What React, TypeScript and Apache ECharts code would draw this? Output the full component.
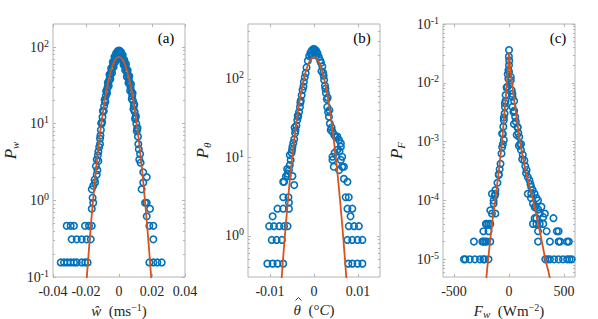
import React, { useEffect, useRef } from 'react';
import * as echarts from 'echarts';

const FONT = '"Liberation Serif", "Times New Roman", serif';
const BLUE = '#0072BD';
const ORANGE = '#D95319';
const FRAME = '#b4b4b4';
const TEXT = '#262626';

// ---------- panel (a): vertical velocity ----------
const wTicks = [-0.04, -0.02, 0, 0.02, 0.04];
const wPdfMajor = [0.1, 1, 10, 100];
const wPdfMinor = [0.2, 0.3, 0.4, 0.5, 0.6, 0.7, 0.8, 0.9, 2, 3, 4, 5, 6, 7, 8, 9, 20, 30, 40, 50, 60, 70, 80, 90];
const wPoints: [number, number][] = [
  [-0.0115, 6.4], [-0.011, 8.3], [-0.0105, 10], [-0.01, 12.2], [-0.0095, 14.6], [-0.009, 17], [-0.0085, 20], [-0.008, 23],
  [-0.0075, 26], [-0.007, 29.5], [-0.0065, 33], [-0.006, 37], [-0.0055, 41], [-0.005, 45], [-0.0045, 50], [-0.004, 55],
  [-0.0035, 60], [-0.003, 65], [-0.0025, 70], [-0.002, 74], [-0.0015, 78], [-0.001, 82], [-0.0005, 85], [0, 86],
  [0.0005, 85], [0.001, 82], [0.0015, 78], [0.002, 73], [0.0025, 68], [0.003, 64], [0.0035, 59], [0.004, 55],
  [0.0045, 50], [0.005, 46], [0.0055, 42], [0.006, 38], [0.0065, 34], [0.007, 30], [0.0075, 26.5], [0.008, 23],
  [0.0085, 20], [0.009, 17], [0.0095, 14.3], [0.01, 12], [0.0105, 10], [0.011, 8.5], [0.0115, 6.8],
  [-0.01125, 7.0], [-0.01075, 10.2], [-0.01025, 10.5], [-0.00975, 14.8], [-0.00925, 14.5], [-0.00875, 20.5], [-0.00825, 19],
  [-0.00775, 27], [-0.00725, 25], [-0.00675, 34.5], [-0.00625, 31], [-0.00575, 44], [-0.00525, 38], [-0.00475, 53],
  [-0.00425, 46], [-0.00375, 64], [-0.00325, 55], [-0.00275, 75], [-0.00225, 64], [-0.00175, 83], [-0.00125, 71],
  [-0.00075, 89], [-0.00025, 78], [0.00025, 90], [0.00075, 76], [0.00125, 86], [0.00175, 68], [0.00225, 79], [0.00275, 59],
  [0.00325, 68], [0.00375, 50], [0.00425, 60], [0.00475, 41], [0.00525, 50], [0.00575, 34], [0.00625, 42], [0.00675, 27],
  [0.00725, 33], [0.00775, 21], [0.00825, 25], [0.00875, 15.5], [0.00925, 18], [0.00975, 11.5], [0.01025, 12.6],
  [0.01075, 8], [0.01125, 8.8],
  [-0.012, 4.96], [-0.0115, 5.425], [-0.0125, 4.34], [-0.0128, 3.875], [-0.0135, 3.41], [-0.0125, 3.255], [-0.0131, 2.48],
  [-0.014, 2.79], [-0.0135, 2.17], [-0.0148, 1.86], [-0.0145, 1.705], [-0.0156, 1.55], [-0.0165, 1.395], [-0.016, 1.085],
  [-0.0156, 0.93], [-0.0165, 0.775],
  [0.0117, 5.425], [0.012, 4.65], [0.0128, 4.03], [0.0123, 3.41], [0.0131, 3.1], [0.0147, 2.325], [0.0168, 2.015],
  [0.0147, 1.705], [0.0137, 1.395], [0.0158, 0.93], [0.0168, 0.93], [0.0188, 0.775], [0.0168, 0.62],
  [-0.0317, 0.465], [-0.0293, 0.465], [-0.0273, 0.465], [-0.0206, 0.465], [-0.0182, 0.465], [-0.0165, 0.465],
  [0.0184, 0.465], [0.0208, 0.465],
  [-0.0287, 0.31], [-0.0256, 0.31], [-0.0226, 0.31], [-0.0196, 0.31], [-0.0171, 0.31], [0.0208, 0.31],
  [-0.0353, 0.155], [-0.0333, 0.155], [-0.0313, 0.155], [-0.0293, 0.155], [-0.0273, 0.155], [-0.0256, 0.155],
  [-0.0226, 0.155], [-0.0205, 0.155], [-0.019, 0.155],
  [0.0184, 0.155], [0.0208, 0.155], [0.0232, 0.155], [0.0259, 0.155],
];
const wFitX = [-0.02, -0.019, -0.018, -0.017, -0.016, -0.015, -0.014, -0.013, -0.012, -0.011, -0.01, -0.009, -0.008, -0.007, -0.006, -0.005, -0.004, -0.003, -0.002, -0.001, 0,
  0.001, 0.002, 0.003, 0.004, 0.005, 0.006, 0.007, 0.008, 0.009, 0.01, 0.011, 0.012, 0.013, 0.014, 0.015, 0.016, 0.017, 0.018, 0.019, 0.02];
const wFitY = [0.0706, 0.139, 0.265, 0.487, 0.865, 1.48, 2.46, 3.93, 6.07, 9.05, 13.05, 18.2, 24.4, 31.7, 39.8, 48.2, 56.3, 63.6, 69.4, 73.1, 74.4,
  73.1, 69.4, 63.6, 56.3, 48.2, 39.8, 31.7, 24.4, 18.2, 13.05, 9.05, 6.07, 3.93, 2.46, 1.48, 0.865, 0.487, 0.265, 0.139, 0.0706];

// ---------- panel (b): temperature ----------
const tTicks = [-0.01, 0, 0.01];
const tPdfMajor = [1, 10, 100];
const tPdfMinor = [0.4, 0.5, 0.6, 0.7, 0.8, 0.9, 2, 3, 4, 5, 6, 7, 8, 9, 20, 30, 40, 50, 60, 70, 80, 90, 200, 300, 400];
const tPoints: [number, number][] = [
  [-0.0008, 215], [-0.0005, 230], [-0.0002, 238], [0, 240], [0.0002, 236], [0.0005, 228], [0.0008, 212], [-0.0011, 195],
  [0.0011, 190], [-0.0003, 205], [0.0003, 210], [0, 220], [-0.0006, 200], [0.0006, 198],
  [-0.0014, 170], [-0.0017, 140], [-0.0019, 118], [-0.0021, 105], [-0.0023, 92], [-0.0026, 72], [-0.0028, 62], [-0.003, 53],
  [-0.0032, 44], [-0.0034, 38], [-0.0036, 33], [-0.0038, 30], [-0.004, 25.5], [-0.0042, 22], [-0.0043, 20.3], [-0.0045, 17],
  [-0.0047, 15.3], [-0.0049, 13.7], [-0.0051, 11.5], [-0.0053, 9.3], [-0.0055, 8], [-0.0057, 6.9], [-0.006, 6.2],
  [-0.0064, 5.7], [-0.0068, 4.889], [-0.0045, 4.444], [-0.0049, 5.778], [-0.0024, 80], [-0.0031, 50], [-0.0037, 34],
  [-0.0044, 24], [-0.005, 12.4], [-0.0055, 10.7], [-0.0061, 7.1], [-0.007, 4.889], [-0.006, 5.778],
  [0.0014, 172], [0.0016, 160], [0.0019, 144], [0.0021, 120], [0.0023, 97], [0.0025, 82], [0.0027, 66], [0.0029, 55],
  [0.003, 44], [0.0032, 38], [0.0034, 33], [0.0036, 27], [0.0038, 22.4], [0.0017, 125], [0.0022, 110], [0.0026, 75],
  [0.0031, 58], [0.0035, 40], [0.004, 24],
  [0.0042, 21.3], [0.0046, 19.5], [0.0049, 18.4], [0.0053, 18.4], [0.0057, 16.7], [0.0061, 15.1], [0.0061, 13.7],
  [0.0053, 12.5], [0.0042, 10.2], [0.0042, 9.3], [0.0064, 10.2], [0.0061, 9.3], [0.0064, 7.6], [0.0045, 7.6],
  [0.0068, 7.6], [0.0057, 6.9], [0.0047, 11.5], [0.0058, 12], [0.0068, 5.333], [0.0076, 4.889],
  [-0.0106, 0.444], [-0.0094, 0.444], [-0.0083, 0.444], [-0.007, 0.444], [0.0078, 0.444], [0.0087, 0.444], [0.0099, 0.444], [0.011, 0.444],
  [-0.0096, 0.889], [-0.0085, 0.889], [-0.0073, 0.889], [0.0076, 0.889], [0.0087, 0.889], [0.0099, 0.889], [0.011, 0.889],
  [-0.0102, 1.333], [-0.0091, 1.333], [-0.0079, 1.333], [-0.0068, 1.333], [-0.006, 1.333], [0.0079, 1.333], [0.0091, 1.333], [0.0102, 1.333],
  [-0.0094, 1.778], [0.0083, 1.778],
  [-0.0083, 2.222], [-0.007, 2.222], [-0.0057, 2.222], [0.0076, 2.222], [0.0087, 2.222],
  [-0.0057, 2.667], [-0.007, 3.111], [-0.0058, 3.111], [0.0072, 3.111], [0.0079, 3.111],
];
const tFitX = [-0.008, -0.0075, -0.007, -0.0065, -0.006, -0.0055, -0.005, -0.0045, -0.004, -0.0035, -0.003, -0.0025, -0.002, -0.0015, -0.001, -0.0005, 0,
  0.0005, 0.001, 0.0015, 0.002, 0.0025, 0.003, 0.0035, 0.004, 0.0045, 0.005, 0.0055, 0.006, 0.0065, 0.007, 0.0075, 0.008];
const tFitY = [0.0891, 0.2252, 0.5375, 1.207, 2.55, 5.08, 9.52, 16.8, 28.0, 43.8, 64.7, 89.9, 117.7, 145.1, 168.5, 184.4, 190,
  184.4, 168.5, 145.1, 117.7, 89.9, 64.7, 43.8, 28.0, 16.8, 9.52, 5.08, 2.55, 1.207, 0.5375, 0.2252, 0.0891];

// ---------- panel (c): heat flux ----------
const fTicks = [-500, 0, 500];
const fPdfMajor = [1e-5, 1e-4, 1e-3, 1e-2, 1e-1];
const fPdfMinor = [6e-6, 7e-6, 8e-6, 9e-6, 2e-5, 3e-5, 4e-5, 5e-5, 6e-5, 7e-5, 8e-5, 9e-5, 2e-4, 3e-4, 4e-4, 5e-4, 6e-4, 7e-4, 8e-4, 9e-4,
  2e-3, 3e-3, 4e-3, 5e-3, 6e-3, 7e-3, 8e-3, 9e-3, 2e-2, 3e-2, 4e-2, 5e-2, 6e-2, 7e-2, 8e-2, 9e-2];
const fPoints: [number, number][] = [
  [0, 0.036], [0, 0.0199], [2, 0.024], [-1, 0.028], [0, 0.0153], [-6, 0.0117], [-12, 0.014], [16, 0.0111], [16, 0.0126],
  [-15, 0.0086], [25, 0.0075], [-22, 0.0083], [-31, 0.0062], [32, 0.0058], [-37, 0.0045], [47, 0.0049], [31, 0.0065],
  [-31, 0.00495], [5, 0.0095], [-5, 0.0165],
  [-37, 0.0039], [-40, 0.003], [-47, 0.0023], [-47, 0.00257], [-52, 0.0018], [-62, 0.00138], [-56, 0.00135], [-47, 0.00107],
  [-56, 0.0009], [-62, 0.0008], [-68, 0.00063], [-77, 0.00042], [-85, 0.00034], [-93, 0.00027], [-93, 0.00028], [-105, 0.0002],
  [-124, 0.00015], [-155, 0.00013], [-124, 0.00013], [-130, 0.00012], [-140, 0.0001], [-140, 0.000089], [-170, 0.000068], [-124, 0.00006],
  [32, 0.0039], [40, 0.0032], [47, 0.00335], [56, 0.00264], [62, 0.0022], [45, 0.002], [78, 0.00177], [78, 0.00174], [70, 0.0013],
  [85, 0.0014], [93, 0.0012], [100, 0.0009], [90, 0.00085], [109, 0.00072], [109, 0.00091], [125, 0.0006], [120, 0.0005],
  [140, 0.00048], [148, 0.00038], [160, 0.00033], [155, 0.00029], [171, 0.00025], [186, 0.00022], [195, 0.00019], [202, 0.00017],
  [215, 0.00015], [171, 0.00013], [202, 0.00013], [233, 0.00013], [200, 0.00011], [250, 0.00011], [264, 0.0001], [218, 0.000089],
  [240, 0.00008], [295, 0.000078], [233, 0.000077], [265, 0.00007], [279, 0.00006], [311, 0.000052], [233, 0.00005],
  [-155, 0.00006], [326, 0.00006],
  [249, 0.00005], [404, 0.00005],
  [-210, 0.00004], [-202, 0.00004], [-186, 0.00004], [-170, 0.00004], [218, 0.00004], [249, 0.00004], [279, 0.00004], [311, 0.00004],
  [-233, 0.00003], [-186, 0.00003], [264, 0.00003], [342, 0.00003], [435, 0.00003], [451, 0.00003],
  [-319, 0.00002], [-242, 0.00002], [-233, 0.00002], [-217, 0.00002], [-202, 0.00002], [-170, 0.00002], [264, 0.00002], [372, 0.00002],
  [451, 0.00002], [465, 0.00002], [528, 0.00002], [544, 0.00002],
  [-410, 0.00001], [-397, 0.00001], [-357, 0.00001], [-310, 0.00001], [-264, 0.00001], [-233, 0.00001], [-223, 0.00001], [-186, 0.00001],
  [330, 0.00001], [350, 0.00001], [372, 0.00001], [410, 0.00001], [451, 0.00001], [491, 0.00001], [528, 0.00001], [550, 0.00001], [570, 0.00001],
];
const fFitX = [-212, -205, -195, -175, -150, -120, -90, -62, -40, -20, -6, 0, 8, 25, 50, 100, 150, 220, 280, 330, 360, 375];
const fFitY = [4e-6, 5e-6, 8e-6, 1.8e-5, 4.5e-5, 1.2e-4, 3.5e-4, 1.05e-3, 3.3e-3, 9.5e-3, 0.02, 0.033, 0.02, 0.0105, 4.6e-3, 1e-3, 3.2e-4, 1e-4, 3e-5, 1e-5, 6e-6, 4.5e-6];

const panels = [
  { left: 53, xMin: -0.04, xMax: 0.04, yMin: 0.1, yMax: 200, xTicks: wTicks, major: wPdfMajor, minor: wPdfMinor, points: wPoints, fitX: wFitX, fitY: wFitY,
    xName: '{i|ŵ}{r|  (ms}{s|−1}{r|)}', yName: '{i|P}{sub|w}', tag: '(a)', tagX: 166, yGap: 33 },
  { left: 248, xMin: -0.015, xMax: 0.015, yMin: 0.3, yMax: 500, xTicks: tTicks, major: tPdfMajor, minor: tPdfMinor, points: tPoints, fitX: tFitX, fitY: tFitY,
    xName: '{i|θ}{r|  (°}{i|C}{r|)}', yName: '{i|P}{sub|θ}', tag: '(b)', tagX: 362, yGap: 36 },
  { left: 443, xMin: -600, xMax: 600, yMin: 5e-6, yMax: 0.1, xTicks: fTicks, major: fPdfMajor, minor: fPdfMinor, points: fPoints, fitX: fFitX, fitY: fFitY,
    xName: '{i|F}{sub|w}{r|  (Wm}{s|−2}{r|)}', yName: '{i|P}{sub|F}', tag: '(c)', tagX: 558, yGap: 37 },
];

const GRID_TOP = 24;
const GRID_H = 253;
const GRID_W = 132;

function logLabel(v: number) {
  const e = Math.round(Math.log10(v));
  return '{b|10}{s|' + e + '}';
}

const nameRich = {
  i: { fontFamily: FONT, fontStyle: 'italic', fontSize: 15, color: TEXT, lineHeight: 17 },
  r: { fontFamily: FONT, fontSize: 15, color: TEXT, lineHeight: 17 },
  s: { fontFamily: FONT, fontSize: 10, color: TEXT, verticalAlign: 'top', lineHeight: 10 },
  sub: { fontFamily: FONT, fontStyle: 'italic', fontSize: 11, color: TEXT, verticalAlign: 'bottom', lineHeight: 11 },
};

function buildOption() {
  const grid: any[] = [];
  const xAxis: any[] = [];
  const yAxis: any[] = [];
  const series: any[] = [];
  const graphic: any[] = [];

  panels.forEach((p, i) => {
    const rect = { left: p.left, top: GRID_TOP, width: GRID_W, height: GRID_H, outerBoundsMode: 'none', containLabel: false };
    grid.push({ ...rect, show: true, borderColor: FRAME, borderWidth: 1, backgroundColor: '#fff' });
    grid.push({ ...rect, show: false });
    const mainG = 2 * i;
    const minorG = 2 * i + 1;
    const tickStyle = { color: FRAME, width: 1 };
    const xBase = { type: 'value', min: p.xMin, max: p.xMax, axisLine: { show: false, onZero: false }, splitLine: { show: false } };
    xAxis.push({
      ...xBase, gridIndex: mainG, position: 'bottom',
      axisTick: { inside: true, length: 3, lineStyle: tickStyle, customValues: p.xTicks },
      axisLabel: { customValues: p.xTicks, color: TEXT, fontFamily: FONT, fontSize: 14, margin: 7, formatter: (v: number) => String(v) },
      name: p.xName, nameLocation: 'middle', nameGap: 20,
      nameTextStyle: { rich: nameRich },
    });
    xAxis.push({
      ...xBase, gridIndex: mainG, position: 'top',
      axisTick: { inside: true, length: 3, lineStyle: tickStyle, customValues: p.xTicks },
      axisLabel: { show: false },
    });
    xAxis.push({ ...xBase, gridIndex: minorG, show: false });

    const yBase = { type: 'log', logBase: 10, min: p.yMin, max: p.yMax, axisLine: { show: false, onZero: false }, splitLine: { show: false } };
    yAxis.push({
      ...yBase, gridIndex: mainG, position: 'left',
      axisTick: { inside: true, length: 3, lineStyle: tickStyle, customValues: p.major },
      axisLabel: {
        customValues: p.major, margin: 4, formatter: logLabel,
        rich: {
          b: { fontFamily: FONT, fontSize: 14, color: TEXT, lineHeight: 18 },
          s: { fontFamily: FONT, fontSize: 10, color: TEXT, verticalAlign: 'top', lineHeight: 11 },
        },
      },
      name: p.yName, nameLocation: 'middle', nameGap: p.yGap, nameRotate: 90,
      nameTextStyle: { rich: { ...nameRich, i: { ...nameRich.i, fontSize: 17, lineHeight: 19 } } },
    });
    yAxis.push({
      ...yBase, gridIndex: mainG, position: 'right',
      axisTick: { inside: true, length: 3, lineStyle: tickStyle, customValues: p.major },
      axisLabel: { show: false },
    });
    yAxis.push({
      ...yBase, gridIndex: minorG, position: 'left',
      axisTick: { inside: true, length: 2, lineStyle: tickStyle, customValues: p.minor },
      axisLabel: { show: false },
    });
    yAxis.push({
      ...yBase, gridIndex: minorG, position: 'right',
      axisTick: { inside: true, length: 2, lineStyle: tickStyle, customValues: p.minor },
      axisLabel: { show: false },
    });

    series.push({
      type: 'scatter', xAxisIndex: 3 * i, yAxisIndex: 4 * i, data: p.points,
      symbol: 'circle', symbolSize: 6.5, silent: true, z: 2,
      itemStyle: { color: 'rgba(0,0,0,0)', borderColor: BLUE, borderWidth: 1.6, opacity: 1 },
    });
    series.push({
      type: 'line', xAxisIndex: 3 * i, yAxisIndex: 4 * i,
      data: p.fitX.map((x, k) => [x, p.fitY[k]]),
      symbol: 'none', showSymbol: false, silent: true, z: 3, clip: true,
      lineStyle: { color: ORANGE, width: 1.8 },
    });

    graphic.push({
      type: 'text', x: p.tagX, y: 38, z: 10,
      style: { text: p.tag, fill: '#000', font: '15px ' + FONT, align: 'center', verticalAlign: 'middle' },
    });
  });

  // circumflex (hat) over the theta of panel (b)'s axis title, drawn as a small stroke
  graphic.push({
    type: 'polyline', z: 10,
    shape: { points: [[295.5, 300.5], [298.5, 297.5], [301.5, 300.5]] },
    style: { stroke: TEXT, lineWidth: 0.9, fill: 'none' },
  });

  return { animation: false, backgroundColor: '#fff', grid, xAxis, yAxis, series, graphic };
}

export default function App() {
  const ref = useRef<HTMLDivElement>(null);
  useEffect(() => {
    if (!ref.current) return;
    const chart = echarts.init(ref.current, undefined, { renderer: 'svg' });
    chart.setOption(buildOption() as any);
    return () => chart.dispose();
  }, []);
  return <div ref={ref} style={{ position: 'fixed', left: 0, top: 0, width: 598, height: 319, background: '#fff' }} />;
}
